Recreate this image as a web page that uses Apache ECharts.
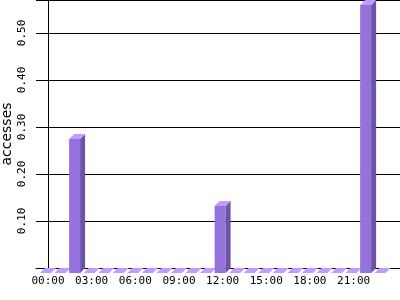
<!DOCTYPE html>
<html>
<head>
<meta charset="utf-8">
<script src="https://cdn.jsdelivr.net/npm/echarts@6/dist/echarts.min.js"></script>
<style>html,body{margin:0;padding:0;background:#fff}#c{width:400px;height:300px}</style>
</head>
<body>
<div id="c"></div>
<script>
var hours = [0,1,2,3,4,5,6,7,8,9,10,11,12,13,14,15,16,17,18,19,20,21,22,23];
var accesses = [0,0,0.285,0,0,0,0,0,0,0,0,0,0.1425,0,0,0,0,0,0,0,0,0,0.57,0];
var tickHours = [0,3,6,9,12,15,18,21];
var tickLabels = ["00:00","03:00","06:00","09:00","12:00","15:00","18:00","21:00"];
var yTicks = [0.10,0.20,0.30,0.40,0.50];

var FRONT = '#9673dc', SIDE = '#6b53a9', TOP = '#c09cff';
var DEPTH = 5, FACE = 11;

var chart = echarts.init(document.getElementById('c'), null, {renderer:'canvas'});
chart.setOption({
  animation:false,
  grid:{left:36, right:0, top:0, bottom:32, containLabel:false, outerBoundsMode:'none'},
  xAxis:{
    type:'value', min:-0.825, max:24.19,
    axisLine:{show:true, onZero:false, lineStyle:{color:'#000', width:1}},
    axisTick:{show:false},
    splitLine:{show:false},
    axisLabel:{
      customValues: tickHours,
      formatter:function(v){ var i = tickHours.indexOf(Math.round(v)); return i>=0 ? tickLabels[i] : ''; },
      fontFamily:'DejaVu Sans Mono', fontSize:11, color:'#000', margin:8
    }
  },
  yAxis:{
    type:'value', min:0, max:0.57, interval:0.1,
    name:'accesses', nameLocation:'middle', nameRotate:90, nameGap:29, nameMoveOverlap:false,
    nameTextStyle:{fontFamily:'DejaVu Sans', fontSize:14, color:'#000', verticalAlign:'middle'},
    axisLine:{show:true, lineStyle:{color:'#000', width:1}},
    axisTick:{show:false},
    splitLine:{show:true, lineStyle:{color:'#000', width:1}},
    axisLabel:{
      customValues: yTicks,
      rotate:90, margin:8,
      formatter:function(v){ return v.toFixed(2); },
      fontFamily:'DejaVu Sans Mono', fontSize:11, color:'#000'
    }
  },
  series:[{
    type:'custom',
    data: hours.map(function(h,i){ return [h, accesses[i]]; }),
    renderItem:function(params, api){
      var h = api.value(0), v = api.value(1);
      var base = api.coord([h, 0]);
      var top = api.coord([h, v]);
      var cx = base[0];
      var bl = cx - FACE/2 + DEPTH/2, br = bl + FACE;
      var fl = bl - DEPTH, fr = br - DEPTH;
      var by0 = base[1], byt = top[1];
      var fy0 = by0 + DEPTH, fyt = byt + DEPTH;
      var children = [];
      if (fy0 - fyt > 0.5) {
        children.push({type:'polygon', shape:{points:[[fl,fyt],[fr,fyt],[fr,fy0],[fl,fy0]]}, style:{fill:FRONT}});
        children.push({type:'polygon', shape:{points:[[fr,fyt],[br,byt],[br,by0],[fr,fy0]]}, style:{fill:SIDE}});
      }
      children.push({type:'polygon', shape:{points:[[fl,fyt],[fr,fyt],[br,byt],[bl,byt]]}, style:{fill:TOP}});
      return {type:'group', children:children};
    },
    z:5
  }]
});
</script>
</body>
</html>
